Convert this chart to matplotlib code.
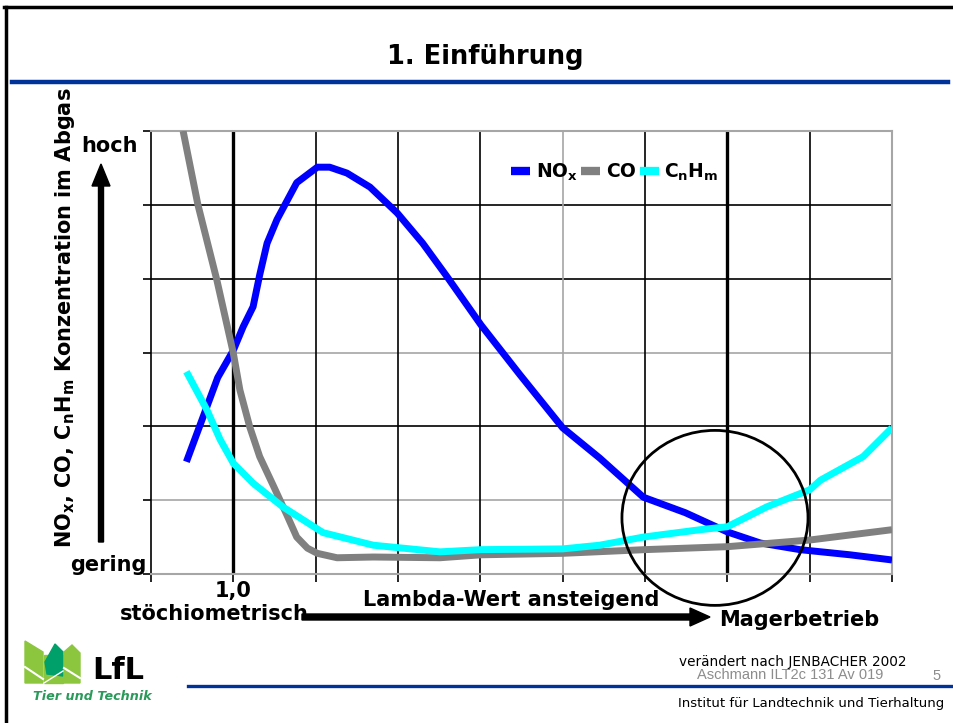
import numpy as np
import matplotlib.pyplot as plt
from matplotlib.patches import Ellipse, Polygon, FancyArrow

# Emission curves vs. lambda (0..9 grid steps, step 1 = stoichiometric)
nox_x = [0.43, 0.81, 1.0, 1.12, 1.24, 1.32, 1.41, 1.53, 1.77, 2.02, 2.17, 2.38, 2.66,
         2.99, 3.30, 3.60, 4.01, 4.48, 5.0, 5.45, 5.98, 6.49, 7.0, 7.40, 7.88, 8.49, 9.0]
nox_y = [1.52, 2.66, 3.03, 3.35, 3.62, 4.05, 4.48, 4.80, 5.30, 5.51, 5.51, 5.43, 5.24,
         4.89, 4.48, 4.02, 3.37, 2.70, 1.98, 1.57, 1.04, 0.83, 0.57, 0.42, 0.33, 0.26, 0.19]

co_x = [0.39, 0.57, 0.80, 1.0, 1.08, 1.20, 1.32, 1.48, 1.65, 1.77, 1.90, 2.02, 2.26,
        2.70, 3.51, 4.01, 5.0, 6.0, 7.0, 8.0, 9.0]
co_y = [6.0, 5.0, 3.98, 2.99, 2.49, 1.99, 1.59, 1.21, 0.80, 0.50, 0.35, 0.28, 0.22,
        0.23, 0.22, 0.26, 0.28, 0.33, 0.37, 0.46, 0.60]

hc_x = [0.43, 0.68, 0.84, 1.0, 1.24, 1.60, 2.09, 2.70, 3.51, 4.01, 5.0, 5.45, 5.98,
        6.67, 7.0, 7.48, 8.0, 8.13, 8.65, 9.0]
hc_y = [2.74, 2.22, 1.82, 1.50, 1.23, 0.91, 0.56, 0.39, 0.30, 0.33, 0.34, 0.39, 0.50,
        0.60, 0.64, 0.91, 1.14, 1.27, 1.59, 1.98]

series_labels = [r'$\mathbf{NO_x}$', r'$\mathbf{CO}$', r'$\mathbf{C_nH_m}$']
series_colors = ['#0000ff', '#808080', '#00ffff']

W, H = 954, 723
fig = plt.figure(figsize=(W / 100, H / 100), dpi=100)

ax = fig.add_axes([151 / W, 1 - 574 / H, (892 - 151) / W, (574 - 131) / H])
ax.set_xlim(0, 9)
ax.set_ylim(0, 6)

# grid: some lines come out black, some grey
hgrid = {1: '#a6a6a6', 2: 'black', 3: '#a6a6a6', 4: 'black', 5: 'black'}
vgrid = {2: 'black', 3: 'black', 4: 'black', 5: '#a6a6a6', 6: 'black', 8: 'black'}
for yv, c in hgrid.items():
    ax.axhline(yv, color=c, lw=1.2, zorder=1)
for xv, c in vgrid.items():
    ax.axvline(xv, color=c, lw=1.2, zorder=1)
ax.axvline(1, color='black', lw=2.4, zorder=1)
ax.axvline(7, color='black', lw=2.4, zorder=1)

for sp in ['top', 'right', 'bottom']:
    ax.spines[sp].set_color('#a6a6a6')
    ax.spines[sp].set_linewidth(1.5)
ax.spines['left'].set_color('black')
ax.spines['left'].set_linewidth(1.2)

ax.set_xticks(range(10))
ax.set_yticks(range(7))
ax.tick_params(length=6, width=1.2, labelbottom=False, labelleft=False)

for xs, ys, c, lab in zip([nox_x, co_x, hc_x], [nox_y, co_y, hc_y], series_colors, series_labels):
    ax.plot(xs, ys, color=c, lw=5, solid_capstyle='butt', solid_joinstyle='round',
            label=lab, zorder=3)

ax.add_patch(Ellipse((6.85, 0.76), 2.26, 2.37, fill=False, ec='black', lw=2,
                     clip_on=False, zorder=4))

leg = ax.legend(loc='center', bbox_to_anchor=(615 / W, 1 - 172 / H),
                bbox_transform=fig.transFigure, ncol=3, frameon=False,
                handlelength=1.0, handletextpad=0.3, columnspacing=0.2,
                prop={'size': 13.5, 'weight': 'bold'})
for lh in leg.get_lines():
    lh.set_linewidth(6)

# overlay in pixel coordinates for slide decorations
ov = fig.add_axes([0, 0, 1, 1], zorder=5)
ov.set_xlim(0, W)
ov.set_ylim(H, 0)
ov.axis('off')

ov.plot([4, W], [7, 7], color='black', lw=2.5)
ov.plot([6, 6], [7, H], color='black', lw=2.5)
ov.plot([12, 948], [82, 82], color='#003399', lw=3.2)
ov.plot([188, W], [686, 686], color='#003399', lw=2.4)

ov.text(485, 57, '1. Einführung', ha='center', va='center', fontsize=18.5, fontweight='bold')

ov.text(65, 318, r'NO$_\mathbf{x}$, CO, C$_\mathbf{n}$H$_\mathbf{m}$ Konzentration im Abgas',
        rotation=90, ha='center', va='center', fontsize=15, fontweight='bold')
ov.text(110, 146, 'hoch', ha='center', va='center', fontsize=15, fontweight='bold')
ov.text(108, 565, 'gering', ha='center', va='center', fontsize=15, fontweight='bold')
ov.add_patch(FancyArrow(101, 542, 0, -378, width=5, head_width=18, head_length=22,
                        length_includes_head=True, color='black'))

ov.text(233, 591, '1,0', ha='center', va='center', fontsize=15, fontweight='bold')
ov.text(214, 614, 'stöchiometrisch', ha='center', va='center', fontsize=15, fontweight='bold')
ov.text(511, 600, 'Lambda-Wert ansteigend', ha='center', va='center', fontsize=15, fontweight='bold')
ov.text(799, 620, 'Magerbetrieb', ha='center', va='center', fontsize=15, fontweight='bold')
ov.add_patch(FancyArrow(302, 617, 408, 0, width=6, head_width=18, head_length=20,
                        length_includes_head=True, color='black'))

# LfL logo
light, dark = '#8cc63e', '#00a06a'
ov.add_patch(Polygon([(25, 641), (43, 652), (43, 683), (25, 683)], color=light))
ov.add_patch(Polygon([(44, 655), (63, 655), (63, 683), (44, 683)], color=light))
ov.add_patch(Polygon([(45, 662), (55, 644), (63, 652), (63, 676), (47, 674)], color=dark))
ov.add_patch(Polygon([(64, 652), (72, 645), (80, 653), (80, 683), (64, 683)], color=light))
ov.plot([25, 43], [667, 679], color='white', lw=1.5)
ov.plot([64, 80], [668, 678], color='white', lw=1.5)
ov.plot([44, 63], [683, 671], color='white', lw=1.0)
ov.text(92, 679, 'LfL', ha='left', va='baseline', fontsize=22, fontweight='heavy')
ov.text(33, 696, 'Tier und Technik', ha='left', va='center', fontsize=9.2,
        fontweight='bold', fontstyle='italic', color='#2a9a5a')

ov.text(793, 662, 'verändert nach JENBACHER 2002', ha='center', va='center', fontsize=9.8)
ov.text(790, 675, 'Aschmann ILT2c 131 Av 019', ha='center', va='center', fontsize=10.5,
        color='#8c8c8c', family='Liberation Sans')
ov.text(937, 676, '5', ha='center', va='center', fontsize=10.5, color='#8c8c8c',
        family='Liberation Sans')
ov.text(811, 703, 'Institut für Landtechnik und Tierhaltung', ha='center', va='center',
        fontsize=9.5)

fig.savefig('out.png', dpi=100)
